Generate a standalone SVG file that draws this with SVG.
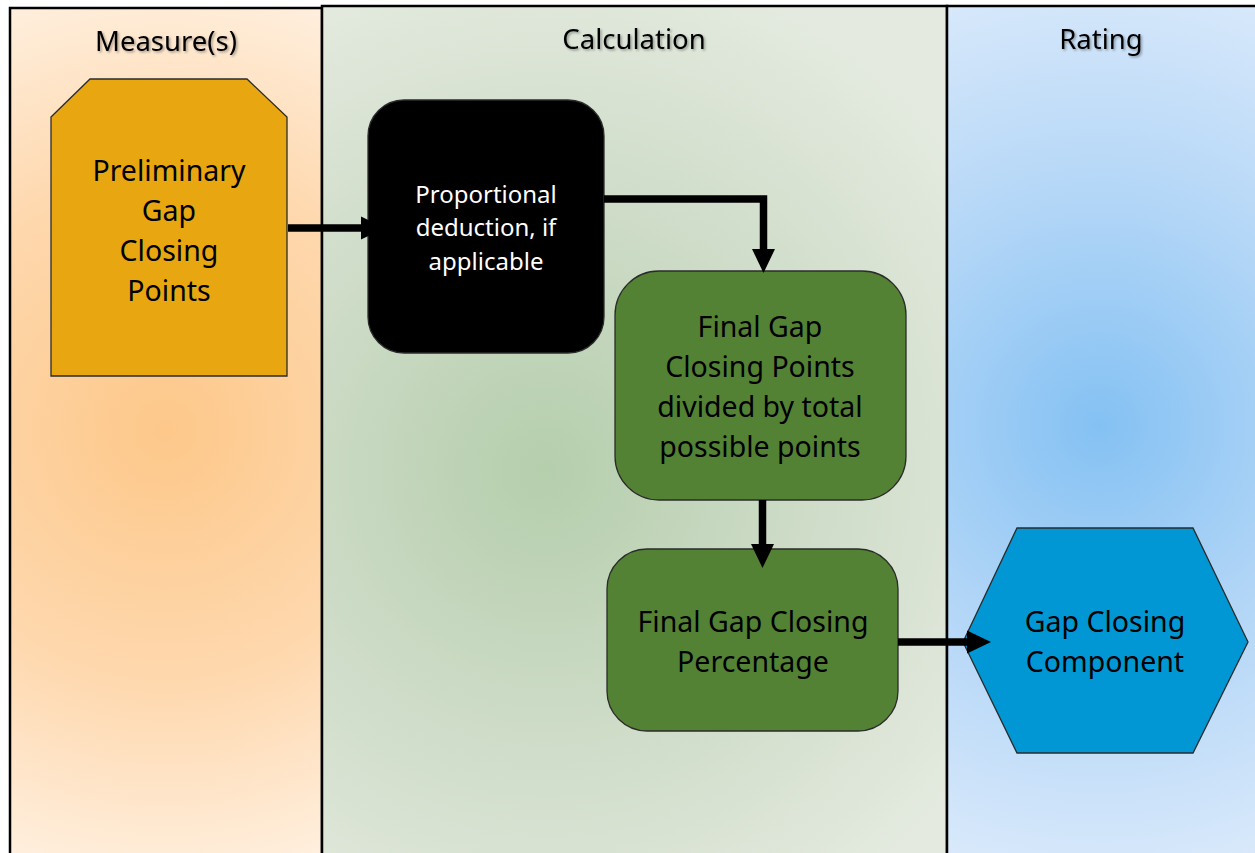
<svg xmlns="http://www.w3.org/2000/svg" width="1255" height="853" viewBox="0 0 1255 853">
  <defs>
    <radialGradient id="gOrange" gradientUnits="userSpaceOnUse" cx="165" cy="430" r="460">
      <stop offset="0" stop-color="#fdc88a"/>
      <stop offset="0.55" stop-color="#fed8ae"/>
      <stop offset="1" stop-color="#fff0e0"/>
    </radialGradient>
    <radialGradient id="gGreen" gradientUnits="userSpaceOnUse" cx="545" cy="470" r="520">
      <stop offset="0" stop-color="#b5ceac"/>
      <stop offset="0.55" stop-color="#d0ddca"/>
      <stop offset="1" stop-color="#e4eadf"/>
    </radialGradient>
    <radialGradient id="gBlue" gradientUnits="userSpaceOnUse" cx="1100" cy="425" r="480">
      <stop offset="0" stop-color="#84c1f3"/>
      <stop offset="0.5" stop-color="#b5d7f7"/>
      <stop offset="1" stop-color="#ddebfb"/>
    </radialGradient>
    <filter id="shadow" x="-10%" y="-20%" width="130%" height="150%">
      <feDropShadow dx="1.5" dy="1.5" stdDeviation="1" flood-color="#000" flood-opacity="0.35"/>
    </filter>
    <marker id="arrow" markerUnits="userSpaceOnUse" markerWidth="26" markerHeight="26" viewBox="0 0 26 26" refX="4" refY="13" orient="auto">
      <path d="M0,1.5 L24,13 L0,24.5 Z" fill="#000"/>
    </marker>
  </defs>
  <style>
    .lane { stroke: #000; stroke-width: 2.5; }
    .hdr { font-family: "Noto Sans", "Open Sans", sans-serif; font-size: 27.5px; fill: #000; text-anchor: middle; filter: url(#shadow); }
    .lbl { font-family: "Noto Sans", "Open Sans", sans-serif; font-size: 28.5px; fill: #000; text-anchor: middle; }
    .lblw { font-family: "Noto Sans", "Open Sans", sans-serif; font-size: 24px; fill: #fff; text-anchor: middle; }
    .node { stroke: #2b2b2b; stroke-width: 1.3; }
    .conn { fill: none; stroke: #000; stroke-width: 7.5; marker-end: url(#arrow); }
  </style>

  <rect x="0" y="0" width="1255" height="853" fill="#ffffff"/>

  <g id="lanes">
    <rect id="lane-measures" class="lane" x="10" y="8" width="312" height="860" fill="url(#gOrange)"/>
    <rect id="lane-calculation" class="lane" x="322" y="6" width="625" height="862" fill="url(#gGreen)"/>
    <rect id="lane-rating" class="lane" x="947" y="6" width="330" height="862" fill="url(#gBlue)"/>
    <text class="hdr" x="166" y="51">Measure(s)</text>
    <text class="hdr" x="634" y="49">Calculation</text>
    <text class="hdr" x="1101" y="49">Rating</text>
  </g>

  <g id="node-preliminary">
    <polygon class="node" points="51,117 90,79 247,79 287,117 287,376 51,376" fill="#e8a711"/>
    <text class="lbl" x="169" y="181">Preliminary</text>
    <text class="lbl" x="169" y="221">Gap</text>
    <text class="lbl" x="169" y="261">Closing</text>
    <text class="lbl" x="169" y="301">Points</text>
  </g>

  <g id="node-deduction">
    <rect class="node" x="368" y="100" width="236" height="253" rx="36" ry="36" fill="#000"/>
    <text class="lblw" x="486" y="203">Proportional</text>
    <text class="lblw" x="486" y="236">deduction, if</text>
    <text class="lblw" x="486" y="270">applicable</text>
  </g>

  <g id="node-final-points">
    <rect class="node" x="615" y="271" width="291" height="229" rx="44" ry="44" fill="#548235"/>
    <text class="lbl" x="760" y="337">Final Gap</text>
    <text class="lbl" x="760" y="377">Closing Points</text>
    <text class="lbl" x="760" y="417">divided by total</text>
    <text class="lbl" x="760" y="457">possible points</text>
  </g>

  <g id="node-final-percentage">
    <rect class="node" x="607" y="549" width="291" height="182" rx="40" ry="40" fill="#548235"/>
    <text class="lbl" x="753" y="632">Final Gap Closing</text>
    <text class="lbl" x="753" y="672">Percentage</text>
  </g>

  <g id="node-component">
    <polygon class="node" points="963,642 1017,528 1193,528 1248,642 1193,753 1017,753" fill="#0097d4"/>
    <text class="lbl" x="1105" y="632">Gap Closing</text>
    <text class="lbl" x="1105" y="672">Component</text>
  </g>

  <g id="connectors">
    <path class="conn" d="M288,228 L365,228"/>
    <path class="conn" d="M604,199 L763.5,199 L763.5,253"/>
    <path class="conn" d="M762.5,500 L762.5,548"/>
    <path class="conn" d="M898,642 L971,642"/>
  </g>
</svg>
